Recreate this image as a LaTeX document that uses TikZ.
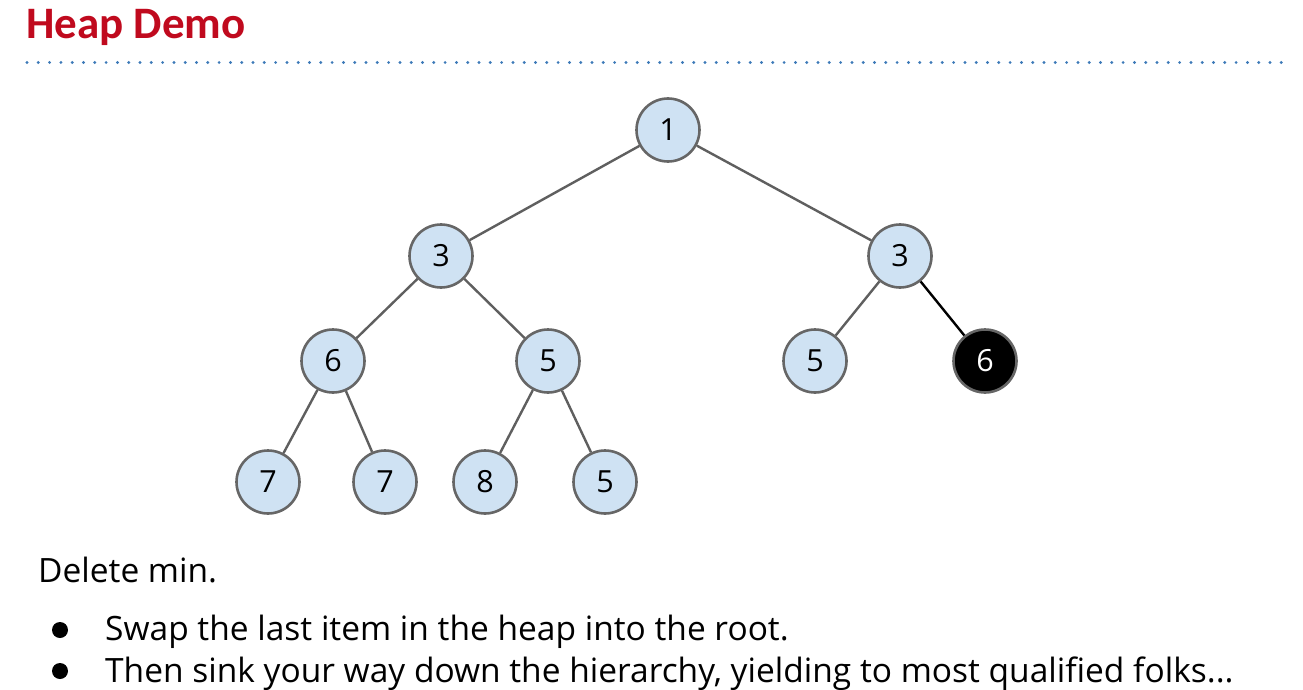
\documentclass[tikz,border=0pt]{standalone}
\usepackage{fontspec}
\setmainfont{Carlito}
\newfontfamily\bodyfont{Open Sans}
\definecolor{titlered}{RGB}{192,10,30}
\definecolor{dotblue}{RGB}{61,122,184}
\definecolor{nodefill}{RGB}{207,226,243}
\definecolor{nodeline}{RGB}{102,102,102}
\definecolor{edgegray}{RGB}{95,95,95}
\begin{document}
\begin{tikzpicture}[x=1pt,y=-1pt,
  hnode/.style={circle,draw=nodeline,line width=2.6pt,fill=nodefill,minimum size=63pt,inner sep=0pt,font=\bodyfont\fontsize{30.5}{33}\selectfont},
  hblack/.style={hnode,fill=black,text=white},
  hedge/.style={draw=edgegray,line width=2.4pt},
  bedge/.style={draw=black,line width=2.4pt},
  body/.style={anchor=base west,inner sep=0pt,font=\bodyfont\fontsize{33.5}{36}\selectfont}]
\useasboundingbox (0,0) rectangle (1303,690);
\node[anchor=base west,inner sep=0pt,text=titlered,font=\fontsize{45}{48}\selectfont\bfseries] (title) at (26,39) {Heap Demo};
\coordinate (dl) at (27,62.5);
\coordinate (dr) at (1283,62.5);
\draw[dotblue,line width=3.2pt,dash pattern=on 0pt off 11.3pt,line cap=round] (dl) -- (dr);
% nodes
\node[hnode] (n1) at (668,130) {1};
\node[hnode] (n2) at (441,256) {3};
\node[hnode] (n3) at (900,256) {3};
\node[hnode] (n4) at (333,361) {6};
\node[hnode] (n5) at (548,361) {5};
\node[hnode] (n6) at (815,361) {5};
\node[hblack] (n7) at (985,361) {6};
\node[hnode] (n8) at (268,482) {7};
\node[hnode] (n9) at (385,482) {7};
\node[hnode] (n10) at (485,482) {8};
\node[hnode] (n11) at (605,482) {5};
% edges
\draw[hedge] (n1) -- (n2);
\draw[hedge] (n1) -- (n3);
\draw[hedge] (n2) -- (n4);
\draw[hedge] (n2) -- (n5);
\draw[hedge] (n3) -- (n6);
\draw[bedge] (n3) -- (n7);
\draw[hedge] (n4) -- (n8);
\draw[hedge] (n4) -- (n9);
\draw[hedge] (n5) -- (n10);
\draw[hedge] (n5) -- (n11);
% text
\node[body] (t0) at (38,582) {Delete min.};
\fill (60,630) circle (8);
\node[body] (t1) at (105,640) {Swap the last item in the heap into the root.};
\fill (60,671) circle (8);
\node[body] (t2) at (105,682) {Then sink your way down the hierarchy, yielding to most qualified folks...};
\end{tikzpicture}
\end{document}
